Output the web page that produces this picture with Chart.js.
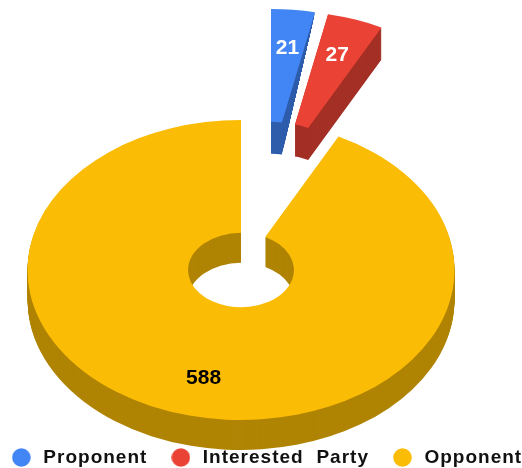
<!DOCTYPE html>
<html>
<head>
<meta charset="utf-8">
<style>html,body{margin:0;padding:0;background:#fff}canvas{display:block}</style>
<script src="https://cdn.jsdelivr.net/npm/chart.js@4"></script>
</head>
<body>
<canvas id="c" width="522" height="468"></canvas>
<script>
const categories = ["Proponent", "Interested Party", "Opponent"];
const values = [21, 27, 588];
const faceColors = ["#4285F4", "#EA4335", "#FBBC05"];
const wallColors = ["#2E5DAB", "#A32F25", "#B08404"];
const labelColors = ["#FFFFFF", "#FFFFFF", "#000000"];

function legendDot(color) {
  const k = document.createElement('canvas');
  k.width = 19; k.height = 19;
  const x = k.getContext('2d');
  x.fillStyle = color;
  x.beginPath(); x.arc(9.5, 9.5, 9.3, 0, Math.PI * 2); x.fill();
  return k;
}

function legendText(ctx) {
  ctx.letterSpacing = '1px';
  ctx.wordSpacing = '6.5px';
}

const pie3d = {
  id: 'pie3d',
  beforeUpdate(chart) { legendText(chart.ctx); },
  beforeDraw(chart) { legendText(chart.ctx); },
  beforeDatasetsDraw(chart, args, o) {
    const ctx = chart.ctx;
    const arcs = chart.getDatasetMeta(0).data;
    const place = (el, i, drop) => {
      ctx.translate(o.cx + o.explode[i][0], o.cy + o.explode[i][1] + drop);
      ctx.scale(1, o.tilt);
      ctx.translate(-el.x, -el.y);
    };
    const order = [2, 1, 0];
    order.forEach(i => {
      const el = arcs[i], saved = el.options;
      const depth = o.depth[i];
      const wall = Object.create(saved);
      Object.defineProperty(wall, 'backgroundColor', {value: wallColors[i]});
      el.options = wall;
      ctx.save();
      if (o.taper[i]) {
        const ox = o.cx + o.explode[i][0], oy = o.cy + o.explode[i][1];
        const a = el.endAngle;
        const p1 = [ox + el.outerRadius * Math.cos(a), oy + o.tilt * el.outerRadius * Math.sin(a)];
        const p2 = [ox + el.innerRadius * Math.cos(a), oy + o.tilt * el.innerRadius * Math.sin(a) + depth];
        ctx.beginPath();
        ctx.moveTo(p1[0], p1[1] - 300);
        ctx.lineTo(p1[0], p1[1]);
        ctx.lineTo(p2[0], p2[1]);
        ctx.lineTo(p2[0], p2[1] + 30);
        ctx.lineTo(p2[0] - 400, p2[1] + 30);
        ctx.lineTo(p2[0] - 400, p1[1] - 300);
        ctx.closePath();
        ctx.clip();
      }
      for (let d = depth; d > 0; d--) {
        ctx.save(); place(el, i, d); el.draw(ctx); ctx.restore();
      }
      ctx.restore();
      el.options = saved;
      ctx.save(); place(el, i, 0); el.draw(ctx); ctx.restore();
    });
    ctx.save();
    ctx.letterSpacing = '0px';
    ctx.wordSpacing = '0px';
    ctx.font = 'bold 21px "Liberation Sans", Arial, sans-serif';
    ctx.textAlign = 'center';
    ctx.textBaseline = 'middle';
    arcs.forEach((el, i) => {
      const mid = (el.startAngle + el.endAngle) / 2;
      const r = el.outerRadius * o.labelAt;
      ctx.fillStyle = labelColors[i];
      ctx.fillText(String(values[i]),
        o.cx + o.explode[i][0] + r * Math.cos(mid),
        o.cy + o.explode[i][1] + o.tilt * r * Math.sin(mid));
    });
    ctx.restore();
    return false;
  }
};

new Chart(document.getElementById('c'), {
  type: 'doughnut',
  data: {
    labels: categories,
    datasets: [{
      data: values,
      backgroundColor: faceColors,
      borderWidth: 0,
      radius: 213.5,
      cutout: '24.8%'
    }]
  },
  options: {
    responsive: false,
    animation: false,
    events: [],
    layout: {padding: {left: -21, right: -30, bottom: -9}},
    plugins: {
      tooltip: {enabled: false},
      pie3d: {
        cx: 241, cy: 270, tilt: 0.7026, depth: [32, 32, 30], labelAt: 0.745,
        explode: [[30, -111], [43, -109], [0, 0]],
        taper: [true, false, false]
      },
      legend: {
        position: 'bottom',
        labels: {
          usePointStyle: true,
          pointStyleWidth: 25,
          boxHeight: 13,
          padding: 21,
          color: '#111111',
          font: {family: '"Liberation Sans", Arial, sans-serif', size: 19, weight: 'bold'},
          generateLabels(chart) {
            return Chart.overrides.doughnut.plugins.legend.labels.generateLabels(chart)
              .map((it, i) => Object.assign(it, {pointStyle: legendDot(faceColors[i])}));
          }
        }
      }
    }
  },
  plugins: [pie3d]
});
</script>
</body>
</html>
